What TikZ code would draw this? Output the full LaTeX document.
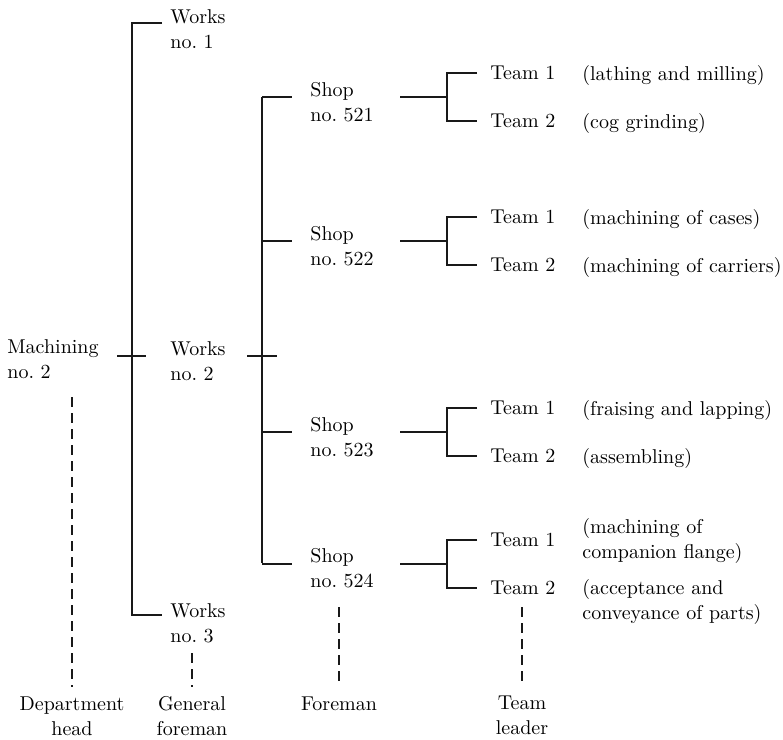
\documentclass[tikz,border=0pt]{standalone}
\usepackage{tikz}
\usetikzlibrary{positioning,calc}
\tikzset{
  txt/.style={inner sep=0pt,align=left,anchor=north west,font=\fontsize{10}{12.5}\selectfont},
  team/.style={inner xsep=6.5pt,inner ysep=0pt,anchor=west,font=\fontsize{10}{12.5}\selectfont},
  desc/.style={inner sep=0pt,anchor=base west,font=\fontsize{10}{12.5}\selectfont},
  role/.style={inner sep=0pt,align=center,anchor=north,font=\fontsize{10}{12.5}\selectfont},
  ln/.style={line width=0.6pt,black!90},
  dsh/.style={line width=0.6pt,black!90,dash pattern=on 5pt off 3pt},
}
\begin{document}
\begin{tikzpicture}[x=0.5pt,y=-0.5pt]
\useasboundingbox (0,0) rectangle (783,740);
% department and works
\node[txt] (mach) at (7,339) {Machining\\no.~2};
\node[txt] (w1) at (170,9) {Works\\no.~1};
\node[txt] (w2) at (170,341) {Works\\no.~2};
\node[txt] (w3) at (170,603) {Works\\no.~3};
\draw[ln] (117,356) -- (146,356);
\draw[ln] (162,23) -- (132,23) -- (132,615) -- (162,615);
% shops
\node[txt] (s521) at (310,82) {Shop\\no.~521};
\node[txt] (s522) at (310,226) {Shop\\no.~522};
\node[txt] (s523) at (310,417) {Shop\\no.~523};
\node[txt] (s524) at (310,548) {Shop\\no.~524};
\draw[ln] (247,356) -- (277,356);
\draw[ln] (262,97) -- (262,563);
% teams of each shop
\foreach \y/\n in {97/521,241/522,432/523,564/524}{
  \node[team] (t\n a) at (477,\y-24) {Team 1};
  \node[team] (t\n b) at (477,\y+24) {Team 2};
  \coordinate (j\n) at (447,\y);
  \draw[ln] (262,\y) -- (292,\y);
  \draw[ln] (400,\y) -- (j\n);
  \draw[ln] (t\n a.west) -| (j\n) |- (t\n b.west);
}
% what the teams do
\foreach \y/\n/\da/\db in {
  97/521/{(lathing and milling)}/{(cog grinding)},
  241/522/{(machining of cases)}/{(machining of carriers)},
  432/523/{(fraising and lapping)}/{(assembling)}}{
  \node[desc] (d\n a) at (582,\y-17) {\da};
  \node[desc] (d\n b) at (582,\y+31) {\db};
}
\node[txt] (d524a) at (582,518) {(machining of\\companion flange)};
\node[txt] (d524b) at (582,579) {(acceptance and\\conveyance of parts)};
% levels of management
\node[role] (head) at (72,696) {Department\\head};
\node[role] (gfm) at (192,696) {General\\foreman};
\node[role] (fm) at (339,696) {Foreman};
\node[role] (tl) at (522,696) {Team\\leader};
\draw[dsh] (head.north |- 0,397) -- ([yshift=4.5pt]head.north);
\draw[dsh] (gfm.north |- 0,653) -- ([yshift=4.5pt]gfm.north);
\draw[dsh] (fm.north |- 0,607) -- ([yshift=5pt]fm.north);
\draw[dsh] (tl.north |- 0,607) -- ([yshift=5pt]tl.north);
\end{tikzpicture}
\end{document}
